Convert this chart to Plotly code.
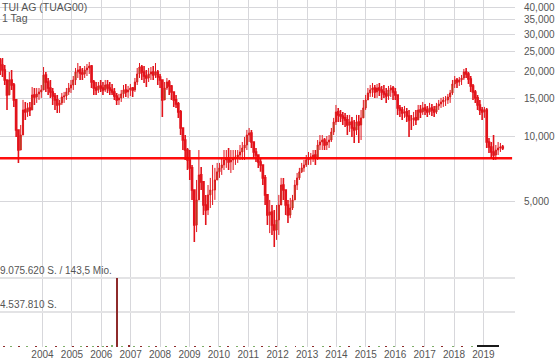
import pandas as pd
import plotly.graph_objects as go

# ---------------- data ----------------
title = "TUI AG (TUAG00)"
subtitle = "1 Tag"

# sampling period of the candles (about four weeks each)
period_start = "2002-07-24"
period_end = "2019-08-29"
n_periods = 221

opens = [
    22740, 21560, 20430, 18360, 15640, 18360,
    17400, 14830, 10750, 8670, 10180, 13320, 13040, 13610, 13320, 15640, 15310, 15810,
    16150, 16500, 19370, 17970, 16850, 16150, 15470, 14830, 14050, 14360, 15310, 15470,
    16150, 16850, 17400, 18360, 20000, 20430, 19790, 19580, 20430, 20880, 21330, 17970,
    16850, 16500, 17220, 16850, 16500, 17400, 16850, 16500, 16150, 15470, 14830, 15150,
    15810, 16500, 16150, 16500, 16850, 16500, 17970, 19580, 21100, 20000, 19160, 18760,
    19580, 20000, 19370, 20000, 18960, 18360, 14830, 16850, 17970, 17220, 16150, 14830,
    14210, 13040, 10980, 9650, 8670, 7790, 7160, 5650, 3880, 5080, 6640, 6160,
    4810, 4560, 5360, 5650, 5650, 6290, 6860, 7160, 7390, 7790, 7960, 7630,
    7790, 7960, 8050, 8220, 8490, 8860, 9150, 10180, 10410, 9450, 8490, 8220,
    7630, 7390, 6430, 5360, 4320, 4460, 3880, 3680, 4100, 4810, 5960, 5650,
    4810, 4320, 4660, 5080, 5960, 6430, 6860, 7160, 7390, 7790, 7960, 8050,
    8220, 7960, 9150, 9450, 9650, 9150, 9450, 9650, 10520, 11710, 13040, 12630,
    12490, 12230, 11970, 11340, 11710, 10980, 10750, 11710, 11340, 12230, 13610, 14830,
    15980, 16500, 16850, 16150, 16850, 16500, 16150, 15810, 15470, 16500, 16850, 16150,
    15640, 13610, 13320, 12900, 13040, 12490, 11970, 11970, 12230, 11970, 13320, 13040,
    13610, 13320, 13040, 13610, 13320, 13040, 13900, 14210, 14510, 14830, 14830, 15310,
    15980, 17590, 18360, 17970, 18360, 18760, 20000, 19580, 18560, 17220, 16150, 15150,
    14050, 13320, 13040, 13320, 9450, 8960, 8490, 8220, 8670, 8860, 8960,
]
highs = [
    23240, 23240, 21560, 18360, 20000, 20430,
    17780, 14830, 10750, 11340, 14830, 14510, 14360, 14510, 17030, 16850, 16850, 16850,
    17400, 21100, 20000, 18760, 18360, 16850, 15980, 15640, 14830, 15980, 16150, 16850,
    17780, 18360, 19160, 20880, 22020, 21330, 20880, 21330, 21790, 22260, 21560, 18360,
    17970, 17970, 18360, 17970, 18360, 18360, 17970, 17590, 16850, 15980, 15810, 16500,
    17400, 17590, 17220, 17590, 17030, 18760, 20880, 22020, 21560, 21330, 20430, 20880,
    21100, 21330, 22020, 20430, 19580, 18360, 17970, 18760, 18360, 17400, 16150, 15640,
    14510, 13320, 10980, 10180, 8860, 8670, 7390, 5650, 6290, 8670, 7230, 6160,
    5360, 5960, 6430, 7390, 7160, 7550, 7550, 7960, 8670, 8670, 8860, 8670,
    8670, 8670, 8670, 9150, 9450, 9970, 10750, 10980, 10750, 9450, 8860, 8220,
    7960, 7390, 6640, 5360, 5080, 4810, 4560, 4810, 5360, 6430, 6430, 5650,
    5080, 5190, 5360, 6290, 6780, 7160, 7550, 7790, 8220, 8490, 8400, 8670,
    8670, 9650, 10180, 10180, 9860, 10070, 10180, 10980, 12230, 14050, 13610, 13320,
    13040, 12900, 12630, 12630, 12360, 11970, 12630, 12630, 13320, 14830, 15640, 16850,
    17400, 17780, 17400, 17590, 17780, 17220, 17400, 16850, 17220, 17400, 17220, 16850,
    15640, 14050, 13760, 13900, 13610, 13320, 12630, 13040, 13320, 14050, 14050, 14510,
    14210, 13900, 14360, 14210, 13900, 14360, 14830, 15150, 15310, 15470, 15810, 16500,
    18360, 19160, 18760, 18960, 19370, 20660, 20880, 20000, 19160, 17590, 16500, 15640,
    14830, 13760, 13760, 13610, 9860, 9450, 10180, 9150, 9450, 9350, 9150,
]
lows = [
    19370, 18960, 17400, 13320, 15640, 16500,
    13760, 9970, 7550, 8670, 10180, 11970, 12360, 12490, 13320, 14050, 14360, 14830,
    15150, 16500, 16150, 15640, 15150, 14050, 13320, 12900, 12900, 14050, 14360, 14830,
    15640, 15980, 16500, 17400, 18760, 18360, 18360, 18760, 19160, 19580, 16850, 15640,
    15640, 15980, 16150, 15640, 16150, 15980, 15640, 15640, 14830, 14050, 14050, 14510,
    15150, 15310, 15150, 15470, 15310, 16150, 17400, 18760, 18360, 17780, 17030, 17970,
    18360, 18360, 18760, 17400, 16850, 12360, 14830, 16500, 15640, 14830, 13760, 13610,
    12230, 10180, 8670, 7790, 7000, 6290, 5080, 3240, 3600, 5080, 5650, 4320,
    3880, 4320, 4660, 4810, 5080, 6290, 6430, 6640, 7000, 7160, 7000, 6780,
    7000, 7390, 7550, 7790, 7790, 7790, 8670, 9450, 8860, 7960, 7630, 7160,
    6860, 5960, 4810, 3880, 3560, 3490, 3070, 3310, 3490, 4810, 5080, 4320,
    3970, 4180, 4560, 5080, 5650, 6290, 6780, 6860, 7230, 7390, 7390, 7630,
    7390, 7790, 8670, 8670, 8670, 8670, 8860, 9450, 10180, 11340, 11710, 11710,
    11340, 11100, 10180, 10520, 9970, 9350, 10180, 9350, 9650, 12230, 13320, 14830,
    15310, 15310, 15150, 15150, 15470, 14830, 15150, 14360, 14830, 15310, 14830, 14830,
    12630, 12360, 11970, 12230, 11710, 9970, 10750, 11220, 11340, 11970, 12230, 12630,
    12630, 12360, 12630, 12490, 12360, 12760, 13320, 13610, 13760, 13900, 14210, 14360,
    15640, 16850, 16850, 17220, 17400, 18360, 18760, 17590, 16150, 14830, 14360, 13320,
    12630, 11970, 12230, 8860, 8400, 7960, 7790, 7790, 8220, 8490, 8670,
]
closes = [
    21560, 20430, 18360, 15640, 18360, 17400,
    14830, 10750, 8670, 10180, 13320, 13040, 13610, 13320, 15640, 15310, 15810, 16150,
    16500, 19370, 17970, 16850, 16150, 15470, 14830, 14050, 14360, 15310, 15470, 16150,
    16850, 17400, 18360, 20000, 20430, 19790, 19580, 20430, 20880, 21330, 17970, 16850,
    16500, 17220, 16850, 16500, 17400, 16850, 16500, 16150, 15470, 14830, 15150, 15810,
    16500, 16150, 16500, 16850, 16500, 17970, 19580, 21100, 20000, 19160, 18760, 19580,
    20000, 19370, 20000, 18960, 18360, 14830, 16850, 17970, 17220, 16150, 14830, 14210,
    13040, 10980, 9650, 8670, 7790, 7160, 5650, 3880, 5080, 6640, 6160, 4810,
    4560, 5360, 5650, 5650, 6290, 6860, 7160, 7390, 7790, 7960, 7630, 7790,
    7960, 8050, 8220, 8490, 8860, 9150, 10180, 10410, 9450, 8490, 8220, 7630,
    7390, 6430, 5360, 4320, 4460, 3880, 3680, 4100, 4810, 5960, 5650, 4810,
    4320, 4660, 5080, 5960, 6430, 6860, 7160, 7390, 7790, 7960, 8050, 8220,
    7960, 9150, 9450, 9650, 9150, 9450, 9650, 10520, 11710, 13040, 12630, 12490,
    12230, 11970, 11340, 11710, 10980, 10750, 11710, 11340, 12230, 13610, 14830, 15980,
    16500, 16850, 16150, 16850, 16500, 16150, 15810, 15470, 16500, 16850, 16150, 15640,
    13610, 13320, 12900, 13040, 12490, 11970, 11970, 12230, 11970, 13320, 13040, 13610,
    13320, 13040, 13610, 13320, 13040, 13900, 14210, 14510, 14830, 14830, 15310, 15980,
    17590, 18360, 17970, 18360, 18760, 20000, 19580, 18560, 17220, 16150, 15150, 14050,
    13320, 13040, 13320, 9450, 8960, 8490, 8220, 8670, 8860, 8960, 8860,
]

support_level = 7940

# volume (shares) – only a few bars are visible above the baseline
vol_dates = [
    "2002-09-15", "2002-12-10", "2003-03-20", "2003-06-20", "2003-10-15", "2004-02-10",
    "2004-06-15", "2004-09-20", "2005-01-15", "2005-04-20", "2005-07-10", "2005-09-20",
    "2005-11-15", "2006-01-20", "2006-03-15", "2006-05-10", "2006-07-16", "2006-09-10",
    "2006-12-17", "2007-02-15", "2007-05-10", "2007-08-15", "2007-11-10", "2008-03-15",
    "2008-07-10", "2008-11-20", "2009-03-10", "2009-06-15", "2009-09-15", "2010-01-15",
    "2010-04-20", "2010-08-10", "2010-11-15", "2011-03-10", "2011-06-15", "2011-09-10",
    "2011-12-15", "2012-04-15", "2012-08-10", "2012-11-15", "2013-03-10", "2013-07-15",
    "2013-10-10", "2014-02-15", "2014-06-10", "2014-10-15", "2015-02-10", "2015-06-15",
    "2015-09-10", "2015-12-15", "2016-04-10", "2016-08-15", "2016-12-10", "2017-04-15",
    "2017-08-10", "2017-12-15", "2018-04-10", "2018-08-15",
    "2018-10-20", "2018-11-05", "2018-11-20", "2018-12-05", "2018-12-20", "2019-01-05",
    "2019-01-20", "2019-02-05", "2019-02-20", "2019-03-05", "2019-03-20", "2019-04-05",
    "2019-04-20", "2019-05-05", "2019-05-20", "2019-06-05", "2019-06-20", "2019-07-05",
]
vol_shares = [
    60000, 50000, 80000, 60000, 70000, 50000,
    90000, 60000, 80000, 60000, 70000, 90000,
    110000, 130000, 120000, 140000, 9075620, 130000,
    270000, 90000, 60000, 50000, 60000, 40000,
    50000, 60000, 70000, 60000, 80000, 60000,
    50000, 70000, 60000, 50000, 70000, 60000,
    80000, 60000, 50000, 70000, 60000, 50000,
    60000, 50000, 60000, 50000, 70000, 90000,
    90000, 80000, 60000, 70000, 60000, 50000,
    60000, 50000, 60000, 70000,
    140000, 150000, 140000, 150000, 150000, 140000,
    150000, 140000, 150000, 150000, 140000, 150000,
    150000, 140000, 150000, 140000, 150000, 140000,
]
vol_side = (["down", "up"] * 29) + ["n/a"] * 18
vol_side[16] = "down"
vol_side[18] = "down"

vol_grid = [4537810, 9075620]
vol_grid_labels = ["4.537.810 S.", "9.075.620 S. / 143,5 Mio."]

price_ticks = [5000, 10000, 15000, 20000, 25000, 30000, 35000, 40000]
price_tick_labels = ["5,000", "10,000", "15,000", "20,000", "25,000", "30,000", "35,000", "40,000"]

years = list(range(2004, 2020))
year_labels = [str(y) for y in years]

# ---------------- styling ----------------
FONT = "Liberation Sans, Arial, sans-serif"
TXT = "#555555"
GRID = "#d7d7db"
RED = "#e2131b"
GREEN = "#3fb021"

dates = pd.date_range(period_start, period_end, periods=n_periods)
year_ticks = [f"{y}-01-01" for y in years]
x_range = ["2002-07-22", "2020-01-29"]

fig = go.Figure()

fig.add_trace(go.Candlestick(
    x=dates, open=opens, high=highs, low=lows, close=closes,
    xaxis="x2", yaxis="y",
    increasing=dict(line=dict(color=RED, width=1.0), fillcolor=GREEN),
    decreasing=dict(line=dict(color=RED, width=1.6), fillcolor=RED),
    whiskerwidth=0, showlegend=False, hoverinfo="skip",
))

fig.add_trace(go.Scatter(
    x=[x_range[0], "2019-12-24"], y=[support_level, support_level],
    xaxis="x2", yaxis="y", mode="lines",
    line=dict(color="rgba(255,0,0,0.95)", width=2.6),
    showlegend=False, hoverinfo="skip",
))

side_color = {"down": "#8e2b2b", "up": "#7fae6a", "n/a": "#1a1a1a"}
fig.add_trace(go.Bar(
    x=pd.to_datetime(vol_dates), y=vol_shares,
    xaxis="x", yaxis="y2",
    marker=dict(color=[side_color[s] for s in vol_side], line=dict(width=0)),
    width=12 * 24 * 3600 * 1000,
    showlegend=False, hoverinfo="skip",
))

PRICE_BOTTOM = 0.24496
axis_common = dict(
    tickvals=year_ticks, ticktext=year_labels,
    showgrid=True, gridcolor=GRID, gridwidth=1,
    zeroline=False, showline=False, ticks="", automargin=False,
    range=x_range, type="date",
)
fig.update_layout(
    width=560, height=362,
    margin=dict(l=0, r=45, t=0, b=15, pad=0, autoexpand=False),
    paper_bgcolor="white", plot_bgcolor="white",
    font=dict(family=FONT, size=10, color=TXT),
    bargap=0,
    xaxis=dict(**axis_common, anchor="y2", domain=[0, 1],
               tickfont=dict(family=FONT, size=10, color=TXT)),
    xaxis2=dict(**axis_common, anchor="y", matches="x", showticklabels=False,
                rangeslider=dict(visible=False)),
    yaxis=dict(
        domain=[PRICE_BOTTOM, 1], type="log", range=[3.4170, 4.6360],
        side="right", tickvals=price_ticks, ticktext=price_tick_labels,
        showgrid=True, gridcolor=GRID, gridwidth=1, zeroline=False, showline=False,
        ticks="", ticklabelstandoff=8, automargin=False,
        tickfont=dict(family=FONT, size=10, color=TXT),
    ),
    yaxis2=dict(
        domain=[0, PRICE_BOTTOM], range=[0, 11.18e6],
        tickvals=vol_grid, showticklabels=False, automargin=False,
        showgrid=True, gridcolor="#e3e3e5", gridwidth=1.6, zeroline=False, showline=False,
        ticks="",
    ),
)

annotations = [
    dict(text=title, x=0, y=1, xref="paper", yref="paper", xanchor="left", yanchor="top",
         xshift=0, yshift=1, showarrow=False, font=dict(family=FONT, size=10.5, color=TXT)),
    dict(text=subtitle, x=0, y=1, xref="paper", yref="paper", xanchor="left", yanchor="top",
         xshift=0, yshift=-9.5, showarrow=False, font=dict(family=FONT, size=10.5, color=TXT)),
]
for v, lab in zip(vol_grid, vol_grid_labels):
    annotations.append(dict(text=lab, x=0, y=v, xref="paper", yref="y2", xanchor="left",
                            yanchor="bottom", xshift=-2, yshift=0, showarrow=False,
                            font=dict(family=FONT, size=10, color=TXT)))
fig.update_layout(annotations=annotations)

# the page body has a default 8px margin; remove it so the figure fills the window
fig.write_html(
    "out.html",
    config={"displayModeBar": False},
    post_script="document.body.style.margin='0';document.body.style.padding='0';",
)
